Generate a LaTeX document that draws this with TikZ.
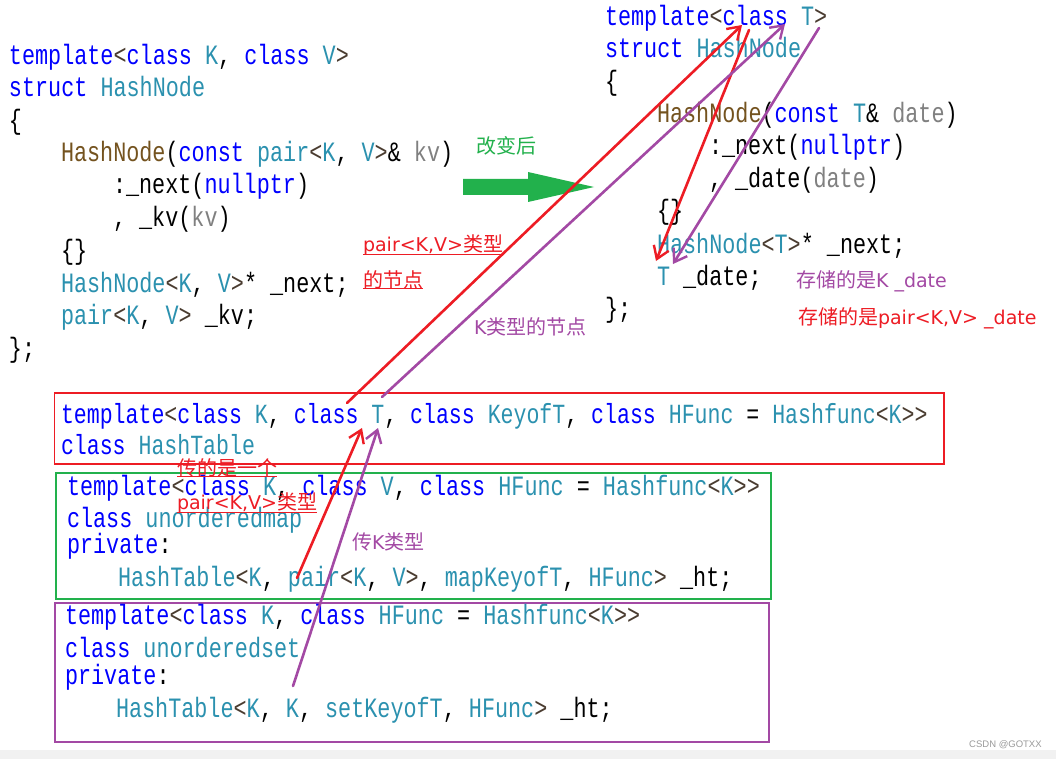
\documentclass[tikz,border=0pt]{standalone}
\usepackage{fontspec}
\setmonofont{Liberation Mono}[FakeStretch=0.778]
\newfontfamily\cjkfont{Noto Sans CJK SC}
\newfontfamily\dvfont{DejaVu Sans}
\newfontfamily\wmfont{Liberation Sans}
\usetikzlibrary{arrows.meta}
\definecolor{kwc}{HTML}{0000FF}
\definecolor{tyc}{HTML}{2B91AF}
\definecolor{fnc}{HTML}{74531F}
\definecolor{pac}{HTML}{808080}
\definecolor{brc}{HTML}{4A3C30}
\definecolor{myred}{HTML}{ED1C24}
\definecolor{mypurple}{HTML}{A349A4}
\definecolor{mygreen}{HTML}{22B14C}
\definecolor{bandgray}{HTML}{F1F1F1}
\definecolor{wmgray}{HTML}{9A9A9A}
\newcommand\ckw[1]{\textcolor{kwc}{#1}}
\newcommand\cty[1]{\textcolor{tyc}{#1}}
\newcommand\cfn[1]{\textcolor{fnc}{#1}}
\newcommand\cpa[1]{\textcolor{pac}{#1}}
\newcommand\cbr[1]{\textcolor{brc}{#1}}
\newcommand\codesize{\fontsize{28}{30}\selectfont}
\newcommand\codesizeL{\fontsize{27.7}{30}\selectfont}
\newcommand\labsize{\fontsize{20}{24}\selectfont}
\newcommand\latn[1]{{\dvfont\fontsize{19}{24}\selectfont #1}}
\begin{document}
\begin{tikzpicture}[x=1pt,y=-1pt,
  code/.style={anchor=base west, inner sep=0pt, outer sep=0pt, font=\ttfamily\codesize, text=black},
  codeL/.style={code, font=\ttfamily\codesizeL},
  lab/.style={anchor=west, inner sep=0pt, outer sep=0pt, font=\cjkfont\labsize},
  ul/.style={draw=#1, line width=1.4pt},
  redarrow/.style={draw=myred, line width=2.6pt, line cap=round, -{Straight Barb[length=12pt,width=16pt,line width=2.4pt]}},
  purparrow/.style={draw=mypurple, line width=2.6pt, line cap=round, -{Straight Barb[length=12pt,width=16pt,line width=2.4pt]}},
  frame/.style={line width=1.1pt}]
\path[use as bounding box, fill=white] (0,0) rectangle (1056,759);
\fill[bandgray] (0,750) rectangle (1056,759);

% ---------- left: original HashNode ----------
\node[code] (l1) at (9,65) {\ckw{template}\cbr{<}\ckw{class} \cty{K}, \ckw{class} \cty{V}\cbr{>}};
\node[code] (l2) at (9,97) {\ckw{struct} \cty{HashNode}};
\node[code] (l3) at (9,130) {\{};
\node[code] (l4) at (61,162) {\cfn{HashNode}(\ckw{const} \cty{pair}\cbr{<}\cty{K}, \cty{V}\cbr{>}\& \cpa{kv})};
\node[code] (l5) at (113,194) {:\_next(\ckw{nullptr})};
\node[code] (l6) at (113,226) {, \_kv(\cpa{kv})};
\node[code] (l7) at (61,259) {\{\}};
\node[code] (l8) at (61,292) {\cty{HashNode}\cbr{<}\cty{K}, \cty{V}\cbr{>}* \_next;};
\node[code] (l9) at (61,324) {\cty{pair}\cbr{<}\cty{K}, \cty{V}\cbr{>} \_kv;};
\node[code] (l10) at (9,357) {\};};

% ---------- right: changed HashNode ----------
\node[code] (r1) at (605,26) {\ckw{template}\cbr{<}\ckw{class} \cty{T}\cbr{>}};
\node[code] (r2) at (605,58) {\ckw{struct} \cty{HashNode}};
\node[code] (r3) at (605,91) {\{};
\node[code] (r4) at (657,123) {\cfn{HashNode}(\ckw{const} \cty{T}\& \cpa{date})};
\node[code] (r5) at (709,155) {:\_next(\ckw{nullptr})};
\node[code] (r6) at (709,188) {, \_date(\cpa{date})};
\node[code] (r7) at (657,220) {\{\}};
\node[code] (r8) at (657,253) {\cty{HashNode}\cbr{<}\cty{T}\cbr{>}* \_next;};
\node[code] (r9) at (657,285) {\cty{T} \_date;};
\node[code] (r10) at (605,317) {\};};

% ---------- boxes ----------
\draw[frame, myred] (54.5,393) rectangle (944,464);
\node[codeL] (h1) at (61,423) {\ckw{template}\cbr{<}\ckw{class} \cty{K}, \ckw{class} \cty{T}, \ckw{class} \cty{KeyofT}, \ckw{class} \cty{HFunc} = \cty{Hashfunc}\cbr{<}\cty{K}\cbr{>}\cbr{>}};
\node[codeL] (h2) at (61,454) {\ckw{class} \cty{HashTable}};

\draw[frame, mygreen] (56,473) rectangle (771,599);
\node[code] (m1) at (67,495) {\ckw{template}\cbr{<}\ckw{class} \cty{K}, \ckw{class} \cty{V}, \ckw{class} \cty{HFunc} = \cty{Hashfunc}\cbr{<}\cty{K}\cbr{>}\cbr{>}};
\node[code] (m2) at (67,527) {\ckw{class} \cty{unorderedmap}};
\node[code] (m3) at (67,553) {\ckw{private}:};
\node[code] (m4) at (118,586) {\cty{HashTable}\cbr{<}\cty{K}, \cty{pair}\cbr{<}\cty{K}, \cty{V}\cbr{>}, \cty{mapKeyofT}, \cty{HFunc}\cbr{>} \_ht;};

\draw[frame, mypurple] (55,603) rectangle (769,742);
\node[code] (s1) at (65,624) {\ckw{template}\cbr{<}\ckw{class} \cty{K}, \ckw{class} \cty{HFunc} = \cty{Hashfunc}\cbr{<}\cty{K}\cbr{>}\cbr{>}};
\node[code] (s2) at (65,657) {\ckw{class} \cty{unorderedset}};
\node[code] (s3) at (65,684) {\ckw{private}:};
\node[code] (s4) at (116,717) {\cty{HashTable}\cbr{<}\cty{K}, \cty{K}, \cty{setKeyofT}, \cty{HFunc}\cbr{>} \_ht;};

% ---------- green arrow ----------
\node[lab, text=mygreen] (chg) at (476,146) {改变后};
\fill[mygreen] (463,179) -- (528,179) -- (528,172) -- (594,187) -- (528,202) -- (528,195) -- (463,195) -- cycle;

% ---------- labels ----------
\node[lab, text=myred] (t1) at (363,245) {\latn{pair<K,V>}类型};
\draw[ul=myred] ([yshift=1pt]t1.south west) -- ([yshift=1pt]t1.south east);
\node[lab, text=myred] (t2) at (363,280) {的节点};
\draw[ul=myred] ([yshift=1pt]t2.south west) -- ([yshift=1pt]t2.south east);
\node[lab, text=mypurple] (t3) at (474,327) {\latn{K}类型的节点};
\node[lab, text=mypurple] (t4) at (796,281) {存储的是\latn{K \_date}};
\node[lab, text=myred] (t5) at (798,318) {存储的是\latn{pair<K,V> \_date}};
\node[lab, text=myred] (t6) at (177,468) {传的是一个};
\draw[ul=myred] ([yshift=1pt]t6.south west) -- ([yshift=1pt]t6.south east);
\node[lab, text=myred] (t7) at (177,503) {\latn{pair<K,V>}类型};
\draw[ul=myred] ([yshift=1pt]t7.south west) -- ([yshift=1pt]t7.south east);
\node[lab, text=mypurple] (t8) at (352,542) {传\latn{K}类型};

% ---------- hand-drawn arrows ----------
\coordinate (a1s) at (347,403); \coordinate (a1e) at (742,25);
\coordinate (a2s) at (749,30);  \coordinate (a2e) at (656,261);
\coordinate (a3s) at (382,397); \coordinate (a3e) at (785,24);
\coordinate (a4s) at (819,28);  \coordinate (a4e) at (673,264);
\coordinate (a5s) at (297,578); \coordinate (a5e) at (362,428);
\coordinate (a6s) at (293,686); \coordinate (a6e) at (378,428);
\draw[redarrow] (a1s) -- (a1e);
\draw[redarrow] (a2s) -- (a2e);
\draw[purparrow] (a3s) -- (a3e);
\draw[purparrow] (a4s) -- (a4e);
\draw[redarrow] (a5s) -- (a5e);
\draw[purparrow] (a6s) -- (a6e);

\node[anchor=west, inner sep=0pt, font=\wmfont\fontsize{9.5}{11}\selectfont, text=wmgray] (wm) at (969,745) {CSDN @GOTXX};
\end{tikzpicture}
\end{document}
